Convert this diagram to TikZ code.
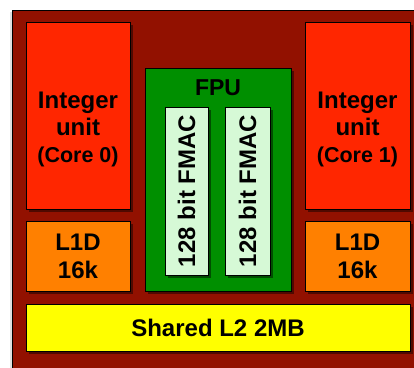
\documentclass[tikz,border=0pt]{standalone}
\usepackage{fontspec}
\setmainfont{Liberation Sans}
\usetikzlibrary{shadows}
\definecolor{dierim}{RGB}{146,17,0}
\definecolor{intred}{RGB}{255,38,0}
\definecolor{cacheorange}{RGB}{255,128,0}
\definecolor{fpugreen}{RGB}{0,143,0}
\definecolor{fmacmint}{RGB}{214,249,214}
\definecolor{l2yellow}{RGB}{255,255,0}
\tikzset{
  blk/.style={draw=black, line width=0.7pt, inner sep=0pt,
    drop shadow={shadow xshift=2.5pt, shadow yshift=-2.5pt, opacity=0.45, fill=black}},
  lbl/.style={font=\fontsize{24}{27}\selectfont\bfseries, align=center, inner sep=0pt}
}
\begin{document}
\begin{tikzpicture}[x=1pt, y=-1pt]
\useasboundingbox (0,0) rectangle (414,367);
\clip (0,0) rectangle (414,367);
\fill[white] (0,0) rectangle (414,367);
% die outline with soft shadow on its left edge
\fill[black!12] (10,12) rectangle (14,380);
\node[draw=black, line width=0.7pt, fill=dierim, minimum width=420pt, minimum height=370pt, anchor=north west] (die) at (12,10) {};
% integer units
\node[blk, fill=intred, minimum width=104pt, minimum height=187pt] (int0) at (78,115.5) {};
\node[lbl] (int0t) at (78,129) {Integer\\unit\\{\fontsize{21.5}{26}\selectfont(Core 0)}};
\node[blk, fill=intred, minimum width=105pt, minimum height=187pt] (int1) at (357.5,115.5) {};
\node[lbl] (int1t) at (357.5,129) {Integer\\unit\\{\fontsize{21.5}{26}\selectfont(Core 1)}};
% L1 data caches
\node[blk, fill=cacheorange, minimum width=104pt, minimum height=70pt] (l1a) at (78,256) {};
\node[lbl, font=\fontsize{24}{28}\selectfont\bfseries] (l1at) at (78,256) {L1D\\16k};
\node[blk, fill=cacheorange, minimum width=105pt, minimum height=70pt] (l1b) at (357.5,256) {};
\node[lbl, font=\fontsize{24}{28}\selectfont\bfseries] (l1bt) at (357.5,256) {L1D\\16k};
% floating point unit with two FMAC pipes
\node[blk, fill=fpugreen, minimum width=146pt, minimum height=223pt] (fpu) at (218,179.5) {};
\node[lbl, font=\fontsize{23}{27}\selectfont\bfseries] (fput) at (218,88) {FPU};
\node[blk, fill=fmacmint, minimum width=43pt, minimum height=168pt] (fmac0) at (186.5,191) {};
\node[lbl, rotate=90] (fmac0t) at (fmac0) {128 bit FMAC};
\node[blk, fill=fmacmint, minimum width=45pt, minimum height=168pt] (fmac1) at (247.5,191) {};
\node[lbl, rotate=90] (fmac1t) at (fmac1) {128 bit FMAC};
% shared L2
\node[blk, fill=l2yellow, minimum width=384pt, minimum height=47pt] (l2) at (218,327.5) {};
\node[lbl] (l2t) at (l2) {Shared L2 2MB};
\end{tikzpicture}
\end{document}
